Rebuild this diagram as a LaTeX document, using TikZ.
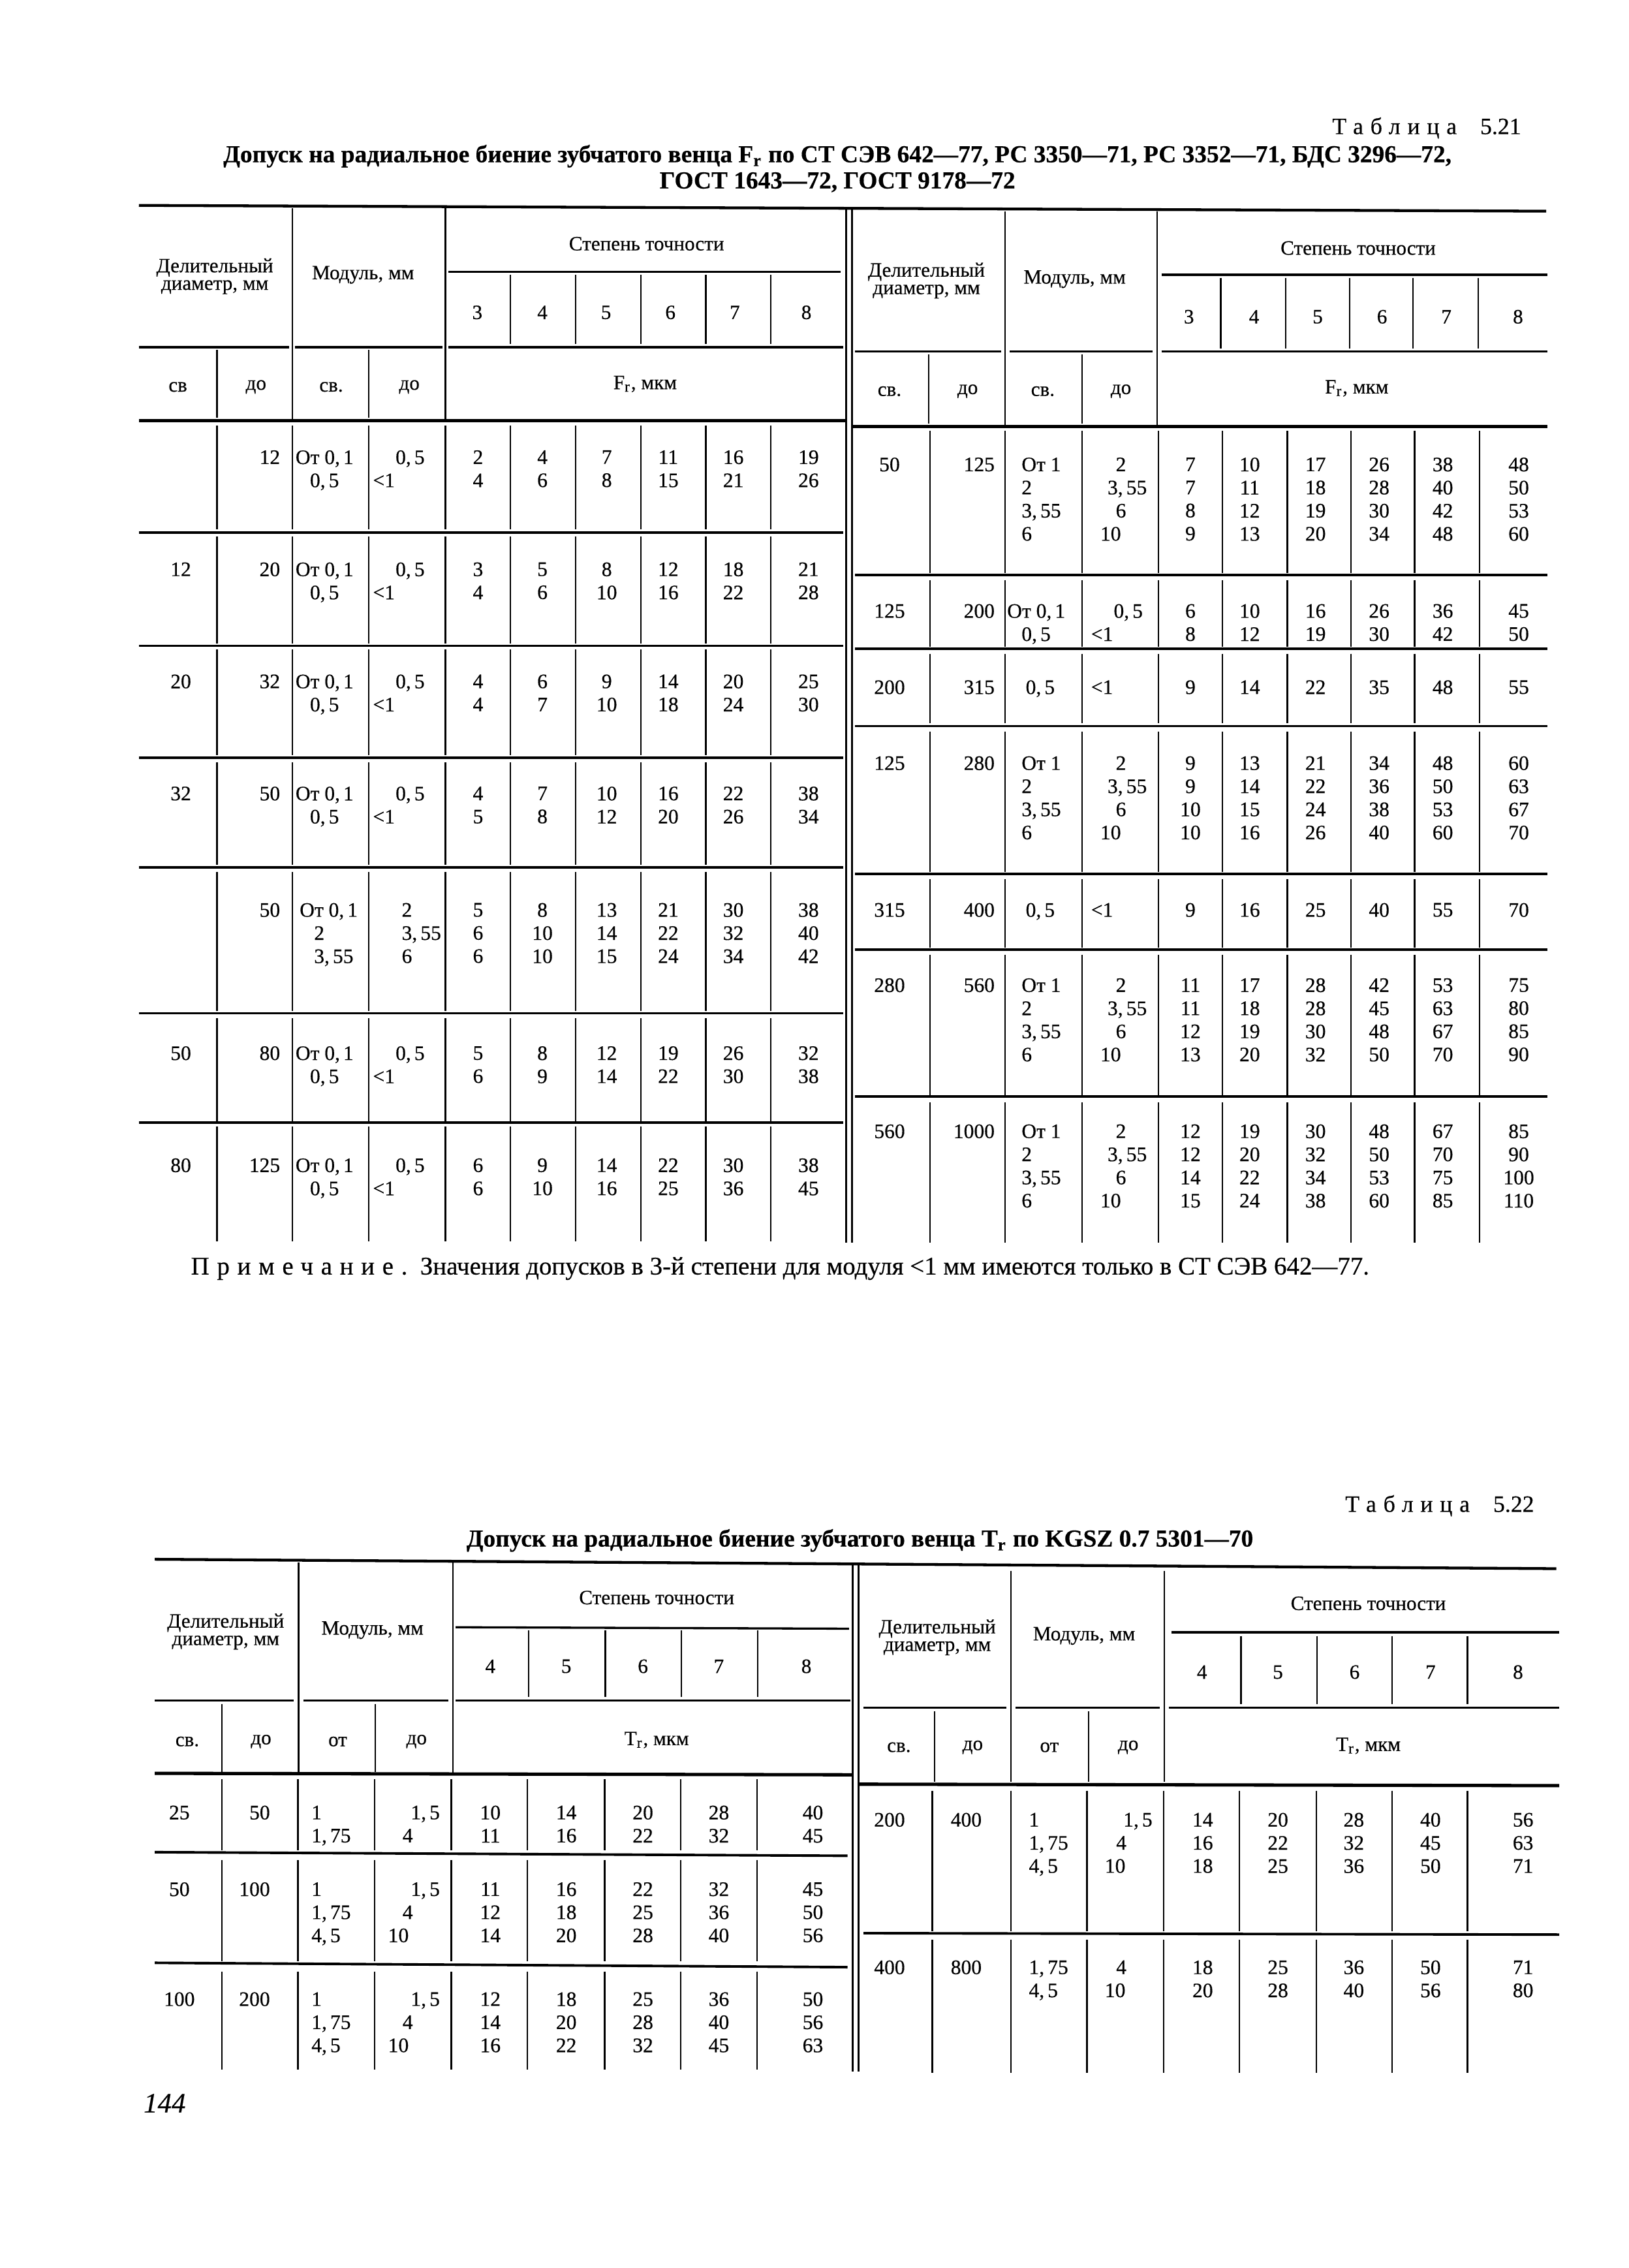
\documentclass[tikz,border=0pt]{standalone}
\usepackage{fontspec}
\setmainfont[FakeBold=0.4]{Liberation Serif}
\newfontfamily\spacedfont[LetterSpace=30,FakeBold=0.4]{Liberation Serif}
% a little air after a decimal comma, as the print has
\XeTeXinterchartokenstate=1
\XeTeXcharclass`\,=7
\XeTeXinterchartoks 7 0 = {\kern1.3pt}
\newcommand{\indt}[1]{\hspace*{#1}}
% module cells that repeat
\newcommand{\modsvA}{От 0,1\\\indt{0.7em}0,5}
\newcommand{\moddoA}{\indt{1.1em}0,5\\<1}
\newcommand{\modsvB}{\indt{0.7em}От 1\\\indt{0.7em}2\\\indt{0.7em}3,55\\\indt{0.7em}6}
\newcommand{\moddoB}{\indt{1.2em}2\\\indt{0.8em}3,55\\\indt{1.2em}6\\\indt{0.45em}10}

\begin{document}
\begin{tikzpicture}[
    x=0.02cm, y=-0.02cm,
    numtxt/.style={font=\fontsize{8.1}{9.1}\selectfont, inner sep=0pt, align=center, anchor=north},
    lefttxt/.style={numtxt, align=left, anchor=north west},
    righttxt/.style={numtxt, align=right, anchor=north east},
    headtxt/.style={font=\fontsize{8}{6.9}\selectfont, inner sep=0pt, align=center},
    titletxt/.style={font=\fontsize{9.6}{10.3}\selectfont\bfseries, inner sep=0pt, align=center},
    captxt/.style={font=\fontsize{9.2}{10}\selectfont, inner sep=0pt, anchor=east},
    toprule/.style={line width=1.1pt},
    boldrule/.style={line width=1.3pt},
    rowrule/.style={line width=1pt},
    subrule/.style={line width=0.85pt},
    colline/.style={line width=0.6pt}
]
    % Page
    \path[fill=white, use as bounding box] (0,0) rectangle (1126,1568);

    % ===== Table 5.21 =====
    \node[captxt] (cap1) at (1052,88.5) {{\spacedfont Таблица}\quad 5.21};
    \node[titletxt] (title1) at (579,116.5) {Допуск на радиальное биение зубчатого венца F\textsubscript{r} по СТ СЭВ 642—77, РС 3350—71, РС 3352—71, БДС 3296—72,\\ГОСТ 1643—72, ГОСТ 9178—72};

    % Outer rules
    \draw[toprule] (96,142) -- (1069,146);
    \draw[colline] (585,144) -- (585,859) (589,144) -- (589,859);

    % Left header lines
    \foreach \x in {202,308} \draw[colline] (\x,144) -- (\x,290);
    \draw[subrule] (310,188) -- (581,188);
    \foreach \x in {353,398,443,488,533} \draw[colline] (\x,190) -- (\x,238);
    \draw[subrule] (96,240) -- (200,240) (204,240) -- (306,240) (310,240) -- (583,240);
    \foreach \x in {150,255} \draw[colline] (\x,242) -- (\x,289);
    \draw[boldrule] (96,291) -- (585,291);

    % Right header lines
    \foreach \x in {695,800} \draw[colline] (\x,146) -- (\x,294);
    \draw[subrule] (803,190) -- (1070,190);
    \foreach \x in {844,889,933,977,1022} \draw[colline] (\x,192) -- (\x,241);
    \draw[subrule] (591,243) -- (692,243) (698,243) -- (797,243) (803,243) -- (1070,243);
    \foreach \x in {642,748} \draw[colline] (\x,245) -- (\x,293);
    \draw[boldrule] (589,295) -- (1070,295);

    % Header texts (both halves)
    \foreach \h/\dx/\dy/\sv in {l/0/0/св, r/492/3/св.} {
        \node[headtxt] (t1\h-dia) at (148.5+\dx,191+\dy) {Делительный\\диаметр, мм};
        \node[headtxt] (t1\h-mod) at (251+\dx,190+\dy) {Модуль, мм};
        \node[headtxt] (t1\h-deg) at (447+\dx,168.5+\dy) {Степень точности};
        \foreach \g/\x in {3/330, 4/375, 5/419, 6/463.5, 7/508, 8/557.5}
            \node[headtxt] (t1\h-g\g) at (\x+\dx,216+\dy) {\g};
        \node[headtxt] (t1\h-dsv) at (123+\dx,267.5+\dy) {\sv};
        \node[headtxt] (t1\h-ddo) at (177+\dx,267.5+\dy) {до};
        \node[headtxt] (t1\h-msv) at (229+\dx,267.5+\dy) {св.};
        \node[headtxt] (t1\h-mdo) at (283+\dx,267.5+\dy) {до};
        \node[headtxt] (t1\h-unit) at (446+\dx,265.5+\dy) {F\textsubscript{r}, мкм};
    }

    % Left body lines
    \draw[rowrule] foreach \y in {368,446.5,524,599.5,700.5,776} {(96,\y) -- (583,\y)};
    \foreach \ya/\yb in {294/366, 371/445, 449/522, 527/598, 603/699, 704/775, 779/858}
        \foreach \x in {150,202,255,308,353,398,443,488,533}
            \draw[colline] (\x,\ya) -- (\x,\yb);

    % Left body values
    \foreach \rw/\y/\t in {2/388.5/12, 3/466/20, 4/543.5/32, 6/723/50, 7/800.5/80}
        \node[numtxt] (t1l-\rw-sv) at (125,\y) {\t};
    \foreach \rw/\y/\ddo/\msv/\mdo/\va/\vb/\vc/\vd/\ve/\vf in {1/311/12/{\modsvA}/{\moddoA}/{2\\4}/{4\\6}/{7\\8}/{11\\15}/{16\\21}/{19\\26},
        2/388.5/20/{\modsvA}/{\moddoA}/{3\\4}/{5\\6}/{8\\10}/{12\\16}/{18\\22}/{21\\28},
        3/466/32/{\modsvA}/{\moddoA}/{4\\4}/{6\\7}/{9\\10}/{14\\18}/{20\\24}/{25\\30},
        4/543.5/50/{\modsvA}/{\moddoA}/{4\\5}/{7\\8}/{10\\12}/{16\\20}/{22\\26}/{38\\34},
        5/624/50/{\indt{0.2em}От 0,1\\\indt{0.9em}2\\\indt{0.9em}3,55}/{\indt{1.4em}2\\\indt{1.4em}3,55\\\indt{1.4em}6}/{5\\6\\6}/{8\\10\\10}/{13\\14\\15}/{21\\22\\24}/{30\\32\\34}/{38\\40\\42},
        6/723/80/{\modsvA}/{\moddoA}/{5\\6}/{8\\9}/{12\\14}/{19\\22}/{26\\30}/{32\\38},
        7/800.5/125/{\modsvA}/{\moddoA}/{6\\6}/{9\\10}/{14\\16}/{22\\25}/{30\\36}/{38\\45}} {
        \node[righttxt] (t1l-\rw-do) at (194,\y) {\ddo};
        \node[lefttxt] (t1l-\rw-ms) at (204,\y) {\msv};
        \node[lefttxt] (t1l-\rw-md) at (257.5,\y) {\mdo};
        \node[numtxt] (t1l-\rw-3) at (330.5,\y) {\va};
        \node[numtxt] (t1l-\rw-4) at (375,\y) {\vb};
        \node[numtxt] (t1l-\rw-5) at (419.5,\y) {\vc};
        \node[numtxt] (t1l-\rw-6) at (462,\y) {\vd};
        \node[numtxt] (t1l-\rw-7) at (507,\y) {\ve};
        \node[numtxt] (t1l-\rw-8) at (559,\y) {\vf};
    }

    % Right body lines
    \draw[rowrule] foreach \y in {397.5,448.5,502,604,656.5,758} {(591,\y) -- (1070,\y)};
    \foreach \ya/\yb in {298/396, 401/447, 452/500, 506/603, 608/655, 660/757, 762/859}
        \foreach \x in {643,695,748,801,845,890,934,978,1023}
            \draw[colline] (\x,\ya) -- (\x,\yb);

    % Right body values
    \foreach \rw/\y/\dsv/\ddo/\msv/\mdo/\va/\vb/\vc/\vd/\ve/\vf in {1/316/50/125/{\modsvB}/{\moddoB}/{7\\7\\8\\9}/{10\\11\\12\\13}/{17\\18\\19\\20}/{26\\28\\30\\34}/{38\\40\\42\\48}/{48\\50\\53\\60},
        2/417.3/125/200/{\modsvA}/{\moddoA}/{6\\8}/{10\\12}/{16\\19}/{26\\30}/{36\\42}/{45\\50},
        3/470/200/315/{\indt{0.9em}0,5}/{<1}/9/14/22/35/48/55,
        4/522.5/125/280/{\modsvB}/{\moddoB}/{9\\9\\10\\10}/{13\\14\\15\\16}/{21\\22\\24\\26}/{34\\36\\38\\40}/{48\\50\\53\\60}/{60\\63\\67\\70},
        5/624/315/400/{\indt{0.9em}0,5}/{<1}/9/16/25/40/55/70,
        6/676/280/560/{\modsvB}/{\moddoB}/{11\\11\\12\\13}/{17\\18\\19\\20}/{28\\28\\30\\32}/{42\\45\\48\\50}/{53\\63\\67\\70}/{75\\80\\85\\90},
        7/777/560/1000/{\modsvB}/{\moddoB}/{12\\12\\14\\15}/{19\\20\\22\\24}/{30\\32\\34\\38}/{48\\50\\53\\60}/{67\\70\\75\\85}/{85\\90\\100\\110}} {
        \node[numtxt] (t1r-\rw-sv) at (615,\y) {\dsv};
        \node[righttxt] (t1r-\rw-do) at (688,\y) {\ddo};
        \node[lefttxt] (t1r-\rw-ms) at (696,\y) {\msv};
        \node[lefttxt] (t1r-\rw-md) at (754,\y) {\mdo};
        \node[numtxt] (t1r-\rw-3) at (823,\y) {\va};
        \node[numtxt] (t1r-\rw-4) at (864,\y) {\vb};
        \node[numtxt] (t1r-\rw-5) at (909.5,\y) {\vc};
        \node[numtxt] (t1r-\rw-6) at (953.5,\y) {\vd};
        \node[numtxt] (t1r-\rw-7) at (997.5,\y) {\ve};
        \node[numtxt] (t1r-\rw-8) at (1050,\y) {\vf};
    }

    % Note
    \node[font=\fontsize{10}{11}\selectfont, inner sep=0pt, anchor=west] (note1) at (131.7,877) {{\spacedfont Примечание.}\enspace Значения допусков в 3-й степени для модуля <1 мм имеются только в СТ СЭВ 642—77.};

    % ===== Table 5.22 =====
    \node[captxt] (cap2) at (1061,1041) {{\spacedfont Таблица}\quad 5.22};
    \node[titletxt] (title2) at (594.5,1065) {Допуск на радиальное биение зубчатого венца T\textsubscript{r} по KGSZ 0.7 5301—70};

    % Outer rules
    \draw[toprule] (107,1078) -- (1076,1084.5);
    \draw[colline] (589.5,1081) -- (589.5,1432) (593.5,1081) -- (593.5,1432);

    % Left header lines
    \foreach \x in {206.5,313} \draw[colline] (\x,1080) -- (\x,1226);
    \draw[subrule] (315,1125) -- (587,1126);
    \foreach \x in {365.5,418.5,471,524} \draw[colline] (\x,1127) -- (\x,1173);
    \draw[subrule] (107,1175.5) -- (203,1175.5) (210,1175.5) -- (310,1175.5) (315,1175.5) -- (588,1175.5);
    \foreach \x in {153.5,259.5} \draw[colline] (\x,1178) -- (\x,1225);
    \draw[boldrule] (107,1226) -- (589,1227);

    % Right header lines
    \foreach \x in {699,805} \draw[colline] (\x,1086) -- (\x,1232);
    \draw[subrule] (810,1128.5) -- (1078,1128.5);
    \foreach \x in {858,910.5,962.5,1014.5} \draw[colline] (\x,1131) -- (\x,1178);
    \draw[subrule] (597,1180.5) -- (696,1180.5) (702,1180.5) -- (802,1180.5) (808,1180.5) -- (1078,1180.5);
    \foreach \x in {646,752.5} \draw[colline] (\x,1183) -- (\x,1232);
    \draw[boldrule] (593,1233.5) -- (1078,1234.5);

    % Header texts (both halves)
    \foreach \h/\dx/\dy in {l/0/0, r/492/4} {
        \node[headtxt] (t2\h-dia) at (156+\dx,1128+\dy) {Делительный\\диаметр, мм};
        \node[headtxt] (t2\h-mod) at (257.5+\dx,1127+\dy) {Модуль, мм};
        \node[headtxt] (t2\h-deg) at (454+\dx,1104.5+\dy) {Степень точности};
        \foreach \g/\x in {4/339, 5/391.5, 6/444.5, 7/497, 8/557.5}
            \node[headtxt] (t2\h-g\g) at (\x+\dx,1152+\dy) {\g};
        \node[headtxt] (t2\h-dsv) at (129.5+\dx,1204+\dy) {св.};
        \node[headtxt] (t2\h-ddo) at (180.5+\dx,1204+\dy) {до};
        \node[headtxt] (t2\h-mot) at (233.5+\dx,1204+\dy) {от};
        \node[headtxt] (t2\h-mdo) at (288+\dx,1204+\dy) {до};
        \node[headtxt] (t2\h-unit) at (454+\dx,1203+\dy) {T\textsubscript{r}, мкм};
    }

    % Left body lines
    \draw[rowrule] (107,1280.5) -- (586,1283) (107,1357) -- (586,1360);
    \foreach \ya/\yb in {1230/1279, 1286/1356, 1363/1431}
        \foreach \x in {153.5,206,259,312,364.5,418,470.5,523.5}
            \draw[colline] (\x,\ya) -- (\x,\yb);

    % Left body values
    \foreach \rw/\y/\dsv/\ddo/\msv/\mdo/\va/\vb/\vc/\vd/\ve in {1/1248/25/50/{1\\1,75}/{\indt{1.1em}1,5\\\indt{0.7em}4}/{10\\11}/{14\\16}/{20\\22}/{28\\32}/{40\\45},
        2/1301/50/100/{1\\1,75\\4,5}/{\indt{1.1em}1,5\\\indt{0.7em}4\\10}/{11\\12\\14}/{16\\18\\20}/{22\\25\\28}/{32\\36\\40}/{45\\50\\56},
        3/1377/100/200/{1\\1,75\\4,5}/{\indt{1.1em}1,5\\\indt{0.7em}4\\10}/{12\\14\\16}/{18\\20\\22}/{25\\28\\32}/{36\\40\\45}/{50\\56\\63}} {
        \node[numtxt] (t2l-\rw-sv) at (124,\y) {\dsv};
        \node[righttxt] (t2l-\rw-do) at (187,\y) {\ddo};
        \node[lefttxt] (t2l-\rw-ms) at (215,\y) {\msv};
        \node[lefttxt] (t2l-\rw-md) at (268,\y) {\mdo};
        \node[numtxt] (t2l-\rw-4) at (339,\y) {\va};
        \node[numtxt] (t2l-\rw-5) at (391.5,\y) {\vb};
        \node[numtxt] (t2l-\rw-6) at (444.5,\y) {\vc};
        \node[numtxt] (t2l-\rw-7) at (497,\y) {\vd};
        \node[numtxt] (t2l-\rw-8) at (562,\y) {\ve};
    }

    % Right body lines
    \draw[rowrule] (597,1336.5) -- (1078,1337.5);
    \foreach \ya/\yb in {1238/1335, 1341/1433}
        \foreach \x in {644.5,699,751.5,804.5,857,910,962.5,1014.5}
            \draw[colline] (\x,\ya) -- (\x,\yb);

    % Right body values
    \foreach \rw/\y/\dsv/\ddo/\msv/\mdo/\va/\vb/\vc/\vd/\ve in {1/1253/200/400/{1\\1,75\\4,5}/{\indt{0.9em}1,5\\\indt{0.55em}4\\10}/{14\\16\\18}/{20\\22\\25}/{28\\32\\36}/{40\\45\\50}/{56\\63\\71},
        2/1355/400/800/{1,75\\4,5}/{\indt{0.55em}4\\10}/{18\\20}/{25\\28}/{36\\40}/{50\\56}/{71\\80}} {
        \node[numtxt] (t2r-\rw-sv) at (615,\y) {\dsv};
        \node[numtxt] (t2r-\rw-do) at (668,\y) {\ddo};
        \node[lefttxt] (t2r-\rw-ms) at (711,\y) {\msv};
        \node[lefttxt] (t2r-\rw-md) at (763.5,\y) {\mdo};
        \node[numtxt] (t2r-\rw-4) at (831.5,\y) {\va};
        \node[numtxt] (t2r-\rw-5) at (883.5,\y) {\vb};
        \node[numtxt] (t2r-\rw-6) at (936,\y) {\vc};
        \node[numtxt] (t2r-\rw-7) at (989,\y) {\vd};
        \node[numtxt] (t2r-\rw-8) at (1053,\y) {\ve};
    }

    % Page number
    \node[font=\fontsize{11}{12}\selectfont\itshape, inner sep=0pt, anchor=west] (pgno) at (99,1454) {144};
\end{tikzpicture}
\end{document}
